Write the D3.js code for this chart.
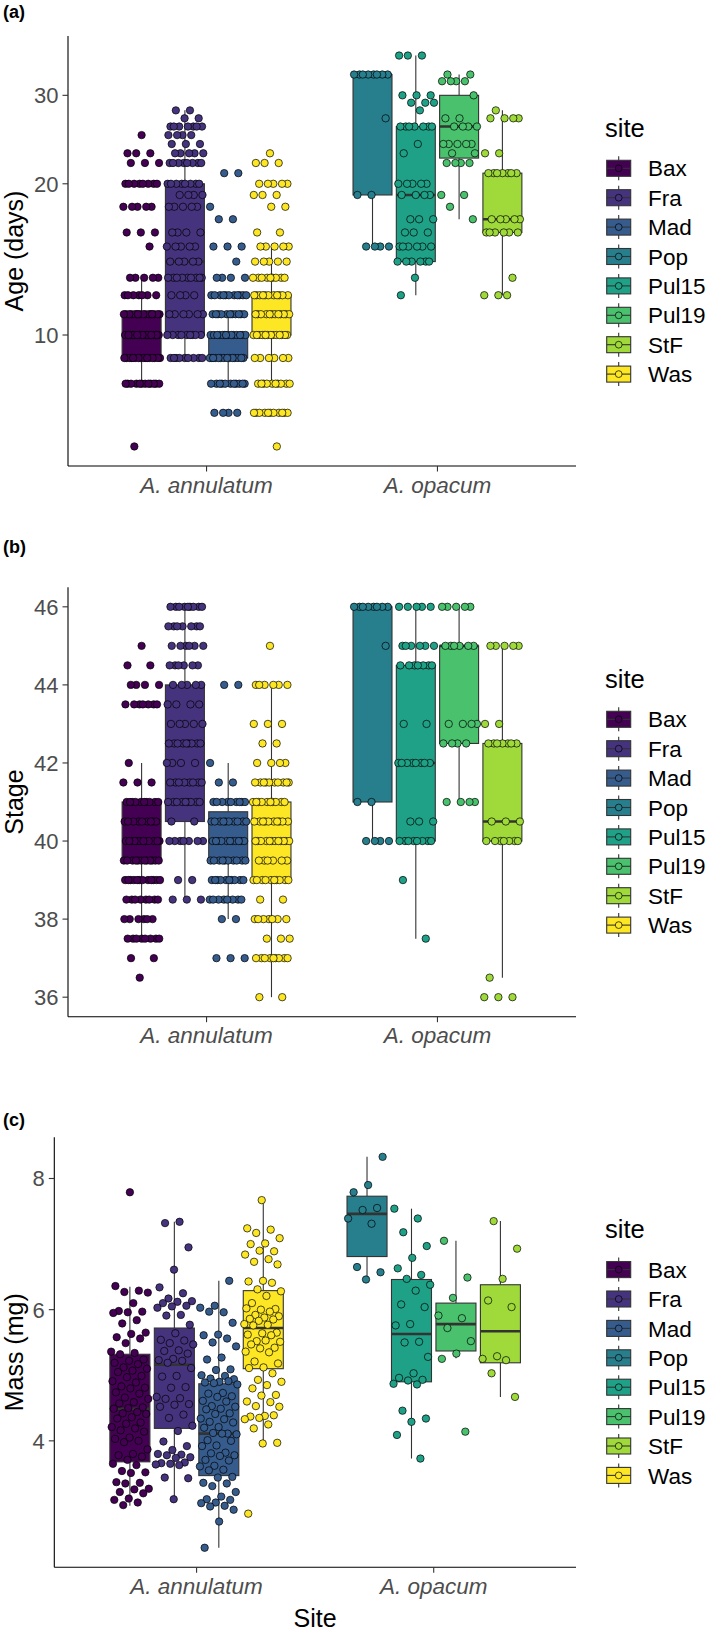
<!DOCTYPE html>
<html><head><meta charset="utf-8">
<script src="https://cdn.jsdelivr.net/npm/d3@7"></script>
<style>body{margin:0;background:#fff}svg{display:block}</style>
</head><body><svg id="chart" width="709" height="1631"></svg>
<script>
// ---------------- data ----------------
const sites = ["Bax","Fra","Mad","Pop","Pul15","Pul19","StF","Was"];
const siteColors = ["#440154","#46337E","#365C8D","#277F8E","#1FA187","#4AC16D","#9FDA3A","#FDE725"];
const species = ["A. annulatum","A. opacum"];
const siteSpecies = [0,0,0,1,1,1,1,0];
const siteSlot = [0,1,2,0,1,2,3,3];

const ageTicks = [10,20,30];
const stageTicks = [36,38,40,42,44,46];
const massTicks = [4,6,8];

// [value, count] per site (Age, days)
const ageBax = [[25,1],[23,3],[22,3],[20,8],[18,5],[16,3],[15,1],[13,5],[12,7],[11,16],[10,20],[9,16],[8,12],[6,1]];
const ageFra = [[28,2],[27,2],[26,7],[25,4],[24,3],[23,5],[22,8],[20,8],[19,4],[18,5],[16,4],[15,5],[14,5],[13,9],[12,4],[11,6],[10,9],[9,9]];
const ageMad = [[21,2],[18,1],[17,2],[15,3],[14,1],[13,4],[12,11],[11,11],[10,14],[9,14],[8,11],[7,4]];
const agePop = [[33,8],[27,1],[19,2],[15,4]];
const agePul15 = [[36,3],[30,3],[29,3],[28,1],[26,7],[24,1],[23,1],[20,5],[19,4],[17,3],[16,3],[15,6],[14,6],[13,1],[12,1]];
const agePul19 = [[33,2],[32,4],[30,1],[27,2],[26,4],[24,5],[23,2],[22,4],[19,2],[18,1],[17,1]];
const ageStF = [[28,1],[27,4],[23,2],[21,7],[17,5],[16,6],[13,1],[12,3]];
const ageWas = [[23,1],[22,3],[20,5],[19,3],[18,2],[16,2],[15,5],[14,5],[13,9],[12,11],[11,12],[10,14],[9,6],[8,10],[7,11],[6,1]];
// box stats [lower whisker, q1, median, q3, upper whisker]
const ageBox = [[8,9,10,11,13],[9,10,14,20,28],[8,9,10,10,11],[15,19,33,33,33],[12,14,19,26,36],[17,22.5,26,30,33],[12,16,17,21,28],[8,10,11,12,15]];

// Stage
const stageBax = [[45,1],[44.5,2],[44,4],[43.5,7],[42,1],[41.5,3],[41,10],[40.5,9],[40,12],[39.5,12],[39,12],[38.5,8],[38,6],[37.5,8],[37,2],[36.5,1]];
const stageFra = [[46,9],[45.5,7],[45,6],[44.5,6],[44,5],[43.5,4],[43,5],[42.5,9],[42,4],[41.5,8],[41,9],[40.5,2],[40,7],[39,2],[38.5,3]];
const stageMad = [[44,2],[42,1],[41.5,2],[41,9],[40.5,10],[40,11],[39.5,10],[39,10],[38.5,8],[38,2],[37,3]];
const stagePop = [[46,8],[45,1],[41,2],[40,4]];
const stagePul15 = [[46,5],[45,6],[44.5,7],[43,2],[42,8],[40.5,3],[40,8],[39,1],[37.5,1]];
const stagePul19 = [[46,5],[45,6],[43,4],[42.5,4],[41,4]];
const stageStF = [[45,5],[43,2],[42.5,7],[40.5,3],[40,7],[36.5,1],[36,3]];
const stageWas = [[45,1],[44,6],[43,3],[42.5,2],[42,4],[41.5,10],[41,10],[40.5,10],[40,12],[39.5,6],[39,10],[38.5,2],[38,7],[37.5,3],[37,9],[36,2]];
const stageBox = [[37.5,39.5,40.5,41,42],[38.5,40.5,42.5,44,46],[38,39.5,40,40.75,42],[40,41,46,46,46],[37.5,40,42,44.5,46],[41,42.5,45,45,46],[36.5,40,40.5,42.5,45],[36,39,40,41,44]];

// Mass (mg)
const massBax = [7.79,6.36,6.29,6.27,6.26,6.10,5.98,5.97,5.96,5.95,5.84,5.79,5.65,5.63,5.58,5.56,5.49,5.36,5.34,5.32,5.24,5.22,5.19,5.17,5.12,5.10,5.07,5.05,4.99,4.97,4.91,4.89,4.83,4.81,4.80,4.74,4.72,4.66,4.64,4.59,4.57,4.51,4.50,4.49,4.44,4.42,4.41,4.36,4.34,4.28,4.26,4.21,4.19,4.16,4.14,4.05,4.03,4.00,3.98,3.87,3.80,3.78,3.76,3.71,3.65,3.63,3.54,3.52,3.51,3.37,3.36,3.35,3.27,3.26,3.22,3.20,3.12,3.10,3.06,3.02];
const massFra = [7.34,7.32,6.95,6.61,6.34,6.25,6.17,6.13,6.12,6.10,6.06,6.05,6.03,5.92,5.91,5.77,5.64,5.54,5.53,5.49,5.47,5.38,5.37,5.33,5.25,5.23,5.22,5.19,5.11,4.99,4.98,4.82,4.81,4.67,4.65,4.64,4.56,4.55,4.52,4.40,4.35,4.23,4.15,3.99,3.92,3.86,3.80,3.79,3.78,3.75,3.74,3.66,3.67,3.65,3.64,3.63,3.44,3.43,3.11];
const massMad = [6.44,6.06,6.03,5.96,5.97,5.80,5.62,5.61,5.56,5.50,5.44,5.27,5.24,5.09,5.08,5.00,4.99,4.95,4.94,4.90,4.89,4.91,4.88,4.86,4.73,4.72,4.68,4.67,4.61,4.60,4.53,4.52,4.49,4.48,4.42,4.41,4.34,4.33,4.29,4.28,4.21,4.20,4.11,4.12,4.10,4.11,4.01,4.00,3.93,3.92,3.82,3.81,3.78,3.77,3.71,3.70,3.62,3.61,3.56,3.55,3.45,3.44,3.36,3.35,3.31,3.22,3.15,3.11,3.10,3.06,3.05,3.01,3.00,2.95,2.77,2.37];
const massPop = [8.33,7.90,7.79,7.55,7.52,7.39,7.31,6.65,6.57,6.46];
const massPul15 = [7.54,7.39,7.18,6.97,6.79,6.63,6.53,6.47,6.38,6.29,6.08,6.04,5.78,5.76,5.51,5.50,5.28,5.03,4.96,4.93,4.92,4.87,4.86,4.46,4.34,4.29,4.09,3.73];
const massPul19 = [7.05,6.49,6.18,5.91,5.87,5.72,5.52,5.33,5.25,4.14];
const massStF = [7.35,6.93,6.47,6.14,6.04,5.29,5.25,5.23,5.03,4.67];
const massWas = [7.67,7.24,7.22,7.17,7.09,7.01,7.00,6.89,6.90,6.84,6.77,6.73,6.69,6.44,6.43,6.41,6.31,6.28,6.21,6.10,6.01,6.00,6.02,5.97,5.92,5.90,5.88,5.86,5.85,5.83,5.78,5.77,5.76,5.65,5.64,5.62,5.61,5.52,5.51,5.53,5.47,5.42,5.41,5.36,5.35,5.21,5.18,5.12,5.11,5.03,4.93,4.90,4.85,4.80,4.70,4.69,4.60,4.59,4.53,4.52,4.38,4.37,4.39,4.35,4.33,4.25,4.19,3.97,3.96,2.89];
const massBox = [[3.01,3.68,4.49,5.32,6.35],[3.07,4.19,5.16,5.72,7.34],[2.37,3.47,4.11,4.87,6.44],[6.48,6.81,7.46,7.73,8.33],[3.73,4.90,5.63,6.46,7.54],[5.26,5.37,5.78,6.10,7.05],[4.67,5.19,5.67,6.38,7.35],[3.95,5.10,5.72,6.29,7.67]];

// ---------------- helpers ----------------
const expandPairs = pairs => { const o=[]; pairs.forEach(([v,n])=>{ for(let i=0;i<n;i++) o.push(v); }); return o; };
const agePts = [ageBax,ageFra,ageMad,agePop,agePul15,agePul19,ageStF,ageWas].map(expandPairs);
const stagePts = [stageBax,stageFra,stageMad,stagePop,stagePul15,stagePul19,stageStF,stageWas].map(expandPairs);
const massPts = [massBax,massFra,massMad,massPop,massPul15,massPul19,massStF,massWas];

const FONT = "'Liberation Sans', Arial, Helvetica, sans-serif";
const svg = d3.select("#chart");

const panels = [
  {tag:"(a)", tagY:18, left:68, right:576, top:36, bottom:466, log:true, ticks:ageTicks, title:"Age (days)", box:ageBox, pts:agePts},
  {tag:"(b)", tagY:553, left:68, right:576, top:587.3, bottom:1016.7, log:false, ticks:stageTicks, title:"Stage", box:stageBox, pts:stagePts},
  {tag:"(c)", tagY:1126, left:54.3, right:576, top:1137.3, bottom:1567.3, log:false, ticks:massTicks, title:"Mass (mg)", box:massBox, pts:massPts, xtitle:"Site"}
];

const slotOff = [-0.28125,-0.09375,0.09375,0.28125];
const boxW = 0.16875;
const jitW = 0.08;

panels.forEach(p => {
  const g = svg.append("g");
  const all = p.pts.flat();
  const [mn, mx] = d3.extent(all);
  let y;
  if (p.log) {
    const a = Math.log10(mn), b = Math.log10(mx), e = (b-a)*0.05;
    y = d3.scaleLog().domain([Math.pow(10,a-e), Math.pow(10,b+e)]).range([p.bottom, p.top]);
  } else {
    const e = (mx-mn)*0.05;
    y = d3.scaleLinear().domain([mn-e, mx+e]).range([p.bottom, p.top]);
  }
  const x = d3.scaleLinear().domain([0.4, 2.6]).range([p.left, p.right]);
  const center = i => 1 + siteSpecies[i] + slotOff[siteSlot[i]];

  // boxes
  sites.forEach((s,i) => {
    const [lo,q1,md,q3,hi] = p.box[i];
    const c = center(i);
    const x0 = x(c - boxW/2), x1 = x(c + boxW/2), xc = x(c);
    g.append("line").attr("x1",xc).attr("x2",xc).attr("y1",y(q3)).attr("y2",y(hi)).attr("stroke","#333333").attr("stroke-width",1.1);
    g.append("line").attr("x1",xc).attr("x2",xc).attr("y1",y(q1)).attr("y2",y(lo)).attr("stroke","#333333").attr("stroke-width",1.1);
    g.append("rect").attr("x",x0).attr("width",x1-x0).attr("y",y(q3)).attr("height",y(q1)-y(q3))
      .attr("fill",siteColors[i]).attr("stroke","#333333").attr("stroke-width",1.1);
    g.append("line").attr("x1",x0).attr("x2",x1).attr("y1",y(md)).attr("y2",y(md)).attr("stroke","#333333").attr("stroke-width",2.6);
  });

  // jittered points (deterministic low-discrepancy offsets)
  sites.forEach((s,i) => {
    const c = center(i);
    p.pts[i].forEach((v,k) => {
      const u = ((0.5 + k*0.6180339887 + i*0.137) % 1);
      g.append("circle").attr("cx", x(c + (u-0.5)*2*jitW)).attr("cy", y(v)).attr("r",3.7)
        .attr("fill",siteColors[i]).attr("stroke","#000").attr("stroke-width",0.7);
    });
  });

  // axes
  g.append("line").attr("x1",p.left).attr("x2",p.left).attr("y1",p.top).attr("y2",p.bottom).attr("stroke","#000").attr("stroke-width",1.1);
  g.append("line").attr("x1",p.left).attr("x2",p.right).attr("y1",p.bottom).attr("y2",p.bottom).attr("stroke","#000").attr("stroke-width",1.1);
  p.ticks.forEach(t => {
    g.append("line").attr("x1",p.left-5.5).attr("x2",p.left).attr("y1",y(t)).attr("y2",y(t)).attr("stroke","#333333").attr("stroke-width",1.1);
    g.append("text").attr("x",p.left-9.5).attr("y",y(t)).attr("dy","0.36em").attr("text-anchor","end")
      .attr("font-family",FONT).attr("font-size",22).attr("fill","#4D4D4D").text(t);
  });
  species.forEach((sp,j) => {
    const xc = x(j+1);
    g.append("line").attr("x1",xc).attr("x2",xc).attr("y1",p.bottom).attr("y2",p.bottom+5.5).attr("stroke","#333333").attr("stroke-width",1.1);
    g.append("text").attr("x",xc).attr("y",p.bottom+26.5).attr("text-anchor","middle")
      .attr("font-family",FONT).attr("font-size",22.5).attr("font-style","italic").attr("fill","#4D4D4D").text(sp);
  });
  const my = (p.top+p.bottom)/2;
  g.append("text").attr("transform",`translate(23,${my}) rotate(-90)`).attr("text-anchor","middle")
    .attr("font-family",FONT).attr("font-size",25).attr("fill","#000").text(p.title);
  if (p.xtitle) {
    g.append("text").attr("x",(p.left+p.right)/2).attr("y",1627).attr("text-anchor","middle")
      .attr("font-family",FONT).attr("font-size",25).attr("fill","#000").text(p.xtitle);
  }
  g.append("text").attr("x",3).attr("y",p.tagY).attr("font-family",FONT).attr("font-size",18).attr("font-weight","bold").text(p.tag);

  // legend
  const lg = g.append("g");
  lg.append("text").attr("x",605).attr("y",my-114.3).attr("font-family",FONT).attr("font-size",25.5).text("site");
  sites.forEach((s,i) => {
    const cy = my - 82.7 + 29.4*i, cx = 618.7;
    lg.append("line").attr("x1",cx).attr("x2",cx).attr("y1",cy-12).attr("y2",cy+12).attr("stroke","#333333").attr("stroke-width",1.1);
    lg.append("rect").attr("x",cx-12).attr("y",cy-8).attr("width",24).attr("height",16).attr("fill",siteColors[i]).attr("stroke","#333333").attr("stroke-width",1.1);
    lg.append("line").attr("x1",cx-12).attr("x2",cx+12).attr("y1",cy).attr("y2",cy).attr("stroke","#333333").attr("stroke-width",1.1);
    lg.append("circle").attr("cx",cx).attr("cy",cy).attr("r",3.4).attr("fill",siteColors[i]).attr("stroke","#000").attr("stroke-width",0.7);
    lg.append("text").attr("x",648).attr("y",cy).attr("dy","0.36em").attr("font-family",FONT).attr("font-size",22.5).text(s);
  });
});
</script></body></html>
